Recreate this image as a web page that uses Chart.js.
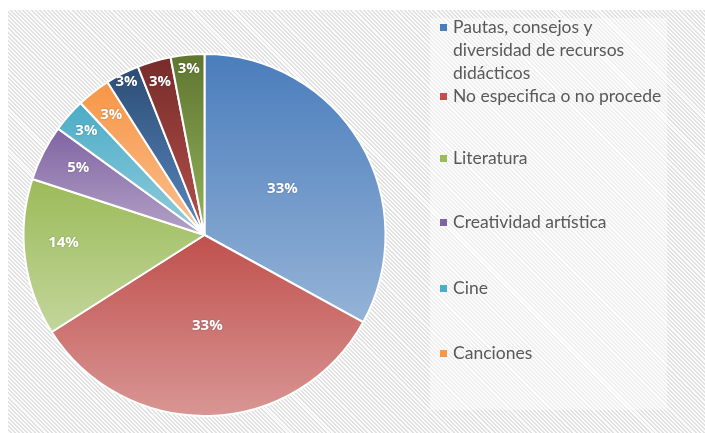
<!DOCTYPE html>
<html>
<head>
<meta charset="utf-8">
<script src="https://cdn.jsdelivr.net/npm/chart.js@4/dist/chart.umd.min.js"></script>
<style>
  html, body { margin: 0; padding: 0; background: #ffffff; }
  #wrap { position: relative; width: 705px; height: 433px; overflow: hidden; }
  #hatch { position: absolute; left: 8px; top: 10px; right: 0; bottom: 0;
    background: repeating-linear-gradient(45deg, #fbfbfb 0px, #fbfbfb 1.5px, #e1e1e1 1.5px, #e1e1e1 2.9px); }
  #legendbox { position: absolute; left: 430px; top: 18px; width: 237px; height: 392px;
    background: rgba(255,255,255,0.45); }
  canvas { position: absolute; left: 0; top: 0; }
</style>
</head>
<body>
<div id="wrap">
  <div id="hatch"></div>
  <div id="legendbox"></div>
  <canvas id="c" width="705" height="433"></canvas>
</div>
<script>
// ---- data ----
const categories = [
  "Pautas, consejos y diversidad de recursos didácticos",
  "No especifica o no procede",
  "Literatura",
  "Creatividad artística",
  "Cine",
  "Canciones",
  "Otra categoría 1",
  "Otra categoría 2",
  "Otra categoría 3"
];
const percentages = [33, 33, 14, 5, 3, 3, 3, 3, 3];
const legendLines = [
  ["Pautas, consejos y", "diversidad de recursos", "didácticos"],
  ["No especifica o no procede"],
  ["Literatura"],
  ["Creatividad artística"],
  ["Cine"],
  ["Canciones"]
];

// ---- styles ----
const topColors    = ["#4a7dbc", "#c0504d", "#9bbb59", "#8064a2", "#4bacc6", "#f79646", "#2c4d75", "#772c2a", "#5f7530"];
const bottomColors = ["#95b3d7", "#d99694", "#c3d69b", "#b3a2c7", "#93cddd", "#fac090", "#5a88c0", "#b5504c", "#94b35a"];
const labelRadiusFrac = [0.5, 0.5, 0.78, 0.79, 0.87, 0.84, 0.95, 0.88, 0.92];
const labelAngleOffsetDeg = [0, 0, 4, 1, 0, 0, 0, 0, 0];
const legendLineY = [[27, 50, 73], [96], [158], [222], [288], [353]];

const gradientPlugin = {
  id: 'sliceGradient',
  beforeDatasetsDraw(chart) {
    const ctx = chart.ctx;
    const meta = chart.getDatasetMeta(0);
    meta.data.forEach((el, i) => {
      const cx = el.x, cy = el.y, r = el.outerRadius;
      let a0 = el.startAngle, a1 = el.endAngle;
      const ys = [cy, cy + r * Math.sin(a0), cy + r * Math.sin(a1)];
      const norm = a => ((a % (2 * Math.PI)) + 2 * Math.PI) % (2 * Math.PI);
      const contains = t => {
        const s = norm(a0), span = a1 - a0;
        let d = norm(t) - s; if (d < 0) d += 2 * Math.PI;
        return d <= span;
      };
      if (contains(Math.PI / 2)) ys.push(cy + r);
      if (contains(-Math.PI / 2)) ys.push(cy - r);
      const y0 = Math.min(...ys), y1 = Math.max(...ys);
      const g = ctx.createLinearGradient(0, y0, 0, y1);
      g.addColorStop(0, topColors[i]);
      g.addColorStop(1, bottomColors[i]);
      el.options = Object.assign({}, el.options, { backgroundColor: g });
    });
  }
};

const labelPlugin = {
  id: 'sliceLabels',
  afterDatasetsDraw(chart) {
    const ctx = chart.ctx;
    const meta = chart.getDatasetMeta(0);
    ctx.save();
    ctx.font = "bold 15px 'Open Sans', sans-serif";
    ctx.fillStyle = "#ffffff";
    ctx.textAlign = "center";
    ctx.textBaseline = "middle";
    ctx.shadowColor = "rgba(0,0,0,0.25)";
    ctx.shadowBlur = 2;
    meta.data.forEach((el, i) => {
      const mid = (el.startAngle + el.endAngle) / 2 + labelAngleOffsetDeg[i] * Math.PI / 180;
      const rr = el.outerRadius * labelRadiusFrac[i];
      ctx.fillText(percentages[i] + "%", el.x + rr * Math.cos(mid), el.y + rr * Math.sin(mid));
    });
    ctx.restore();
  }
};

const legendPlugin = {
  id: 'sideLegend',
  afterDraw(chart) {
    const ctx = chart.ctx;
    ctx.save();
    ctx.font = "17.5px Lato, sans-serif";
    ctx.textBaseline = "middle";
    ctx.textAlign = "left";
    legendLines.forEach((lines, i) => {
      const ys = legendLineY[i];
      ctx.fillStyle = topColors[i];
      ctx.fillRect(440, ys[0] - 3, 7, 7);
      ctx.fillStyle = "#595959";
      lines.forEach((t, j) => ctx.fillText(t, 453, ys[j]));
    });
    ctx.restore();
  }
};

new Chart(document.getElementById('c'), {
  type: 'pie',
  data: {
    labels: categories,
    datasets: [{
      data: percentages,
      backgroundColor: topColors,
      borderColor: "#ffffff",
      borderWidth: 2
    }]
  },
  options: {
    responsive: false,
    devicePixelRatio: 1,
    animation: false,
    layout: { padding: { left: 22, right: 318, top: 53, bottom: 16 } },
    plugins: { legend: { display: false }, tooltip: { enabled: false } }
  },
  plugins: [gradientPlugin, labelPlugin, legendPlugin]
});
</script>
</body>
</html>
